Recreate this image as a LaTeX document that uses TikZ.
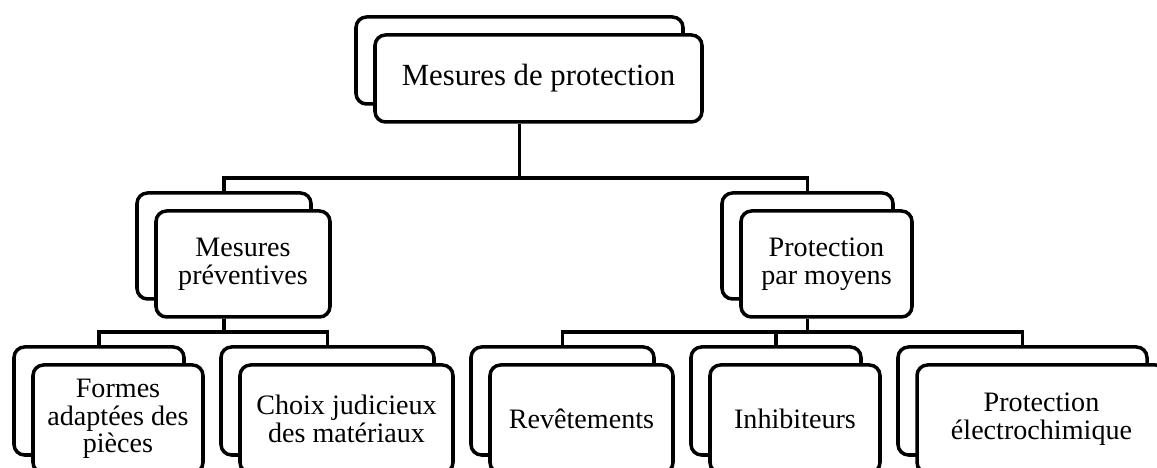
\documentclass[tikz,border=0pt]{standalone}
\usepackage{fontspec}
\setmainfont{Liberation Serif}
\usetikzlibrary{shadows}

\tikzset{
  box/.style={draw, line width=2pt, rounded corners=6pt, fill=white, align=center,
    inner sep=2pt, font=\fontsize{16}{15.8}\selectfont,
    copy shadow={shadow xshift=-0.38cm, shadow yshift=0.36cm, line width=2pt}},
  link/.style={line width=2pt}
}

\begin{document}
\begin{tikzpicture}
    % Cadre de l'image
    \useasboundingbox (0,0) rectangle (23.14,9.36);

    % Niveau 1
    \node[box, minimum width=6.54cm, minimum height=1.74cm,
          font=\fontsize{17.5}{16}\selectfont] (top) at (10.77,7.79) {Mesures de protection};

    % Niveau 2
    \node[box, minimum width=3.48cm, minimum height=2.12cm] (prev) at (4.86,4.08) {Mesures\\préventives};
    \node[box, minimum width=3.42cm, minimum height=2.12cm] (moy) at (16.53,4.08) {Protection\\par moyens};

    % Niveau 3 (coupé en bas)
    \node[box, minimum width=3.4cm, minimum height=2.16cm] (formes) at (2.36,0.98) {Formes\\adaptées des\\pièces};
    \node[box, minimum width=4.26cm, minimum height=2.16cm] (choix) at (6.93,0.98) {Choix judicieux\\des matériaux};
    \node[box, minimum width=3.66cm, minimum height=2.16cm] (rev) at (11.63,0.98) {Revêtements};
    \node[box, minimum width=3.4cm, minimum height=2.16cm] (inhib) at (15.9,0.98) {Inhibiteurs};
    \node[box, minimum width=4.98cm, minimum height=2.16cm] (elec) at (20.83,0.98) {Protection\\électrochimique};

    % Points d'attache : haut de la copie arrière, bas au centre de la copie
    \foreach \n in {top,prev,moy,formes,choix,rev,inhib,elec} {
        \coordinate (\n-b) at ([xshift=-0.38cm,yshift=0.36cm]\n.north);
        \coordinate (\n-s) at ([xshift=-0.38cm]\n.south);
    }

    % Barres horizontales
    \coordinate (bar1) at (10.39,5.8);
    \coordinate (bar2) at (4.48,2.72);
    \coordinate (bar3) at (16.15,2.72);

    % Liaisons
    \draw[link] (top-s) -- (bar1);
    \draw[link] (prev-b) |- (bar1) -| (moy-b);
    \draw[link] (prev-s) -- (bar2);
    \draw[link] (formes-b) |- (bar2) -| (choix-b);
    \draw[link] (moy-s) -- (bar3);
    \draw[link] (rev-b) |- (bar3) -| (elec-b);
    \draw[link] (inhib-b) -- (inhib-b |- bar3);
\end{tikzpicture}
\end{document}
